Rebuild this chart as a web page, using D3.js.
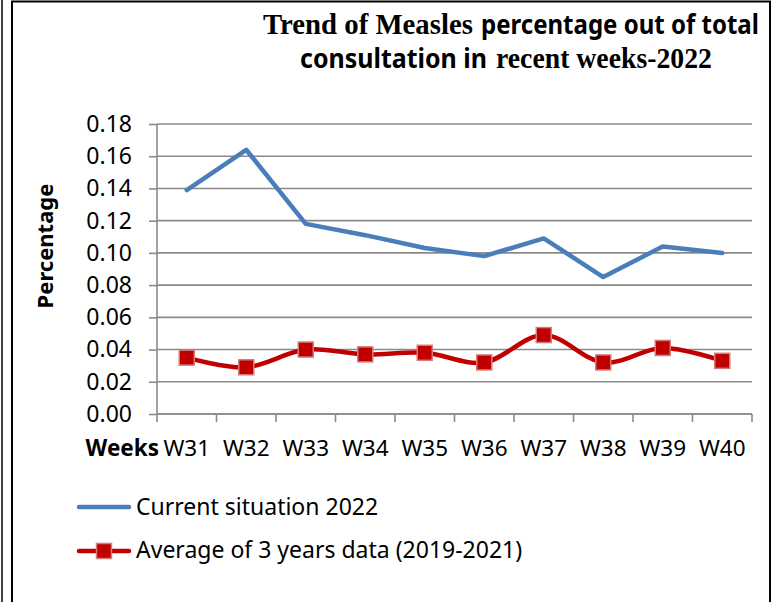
<!DOCTYPE html>
<html>
<head>
<meta charset="utf-8">
<script src="https://cdn.jsdelivr.net/npm/d3@7"></script>
<style>
  body { margin: 0; background: #fff; }
  svg { display: block; }
</style>
</head>
<body>
<svg id="chart" width="778" height="602"></svg>
<script>
// data
var weeks = ['W31', 'W32', 'W33', 'W34', 'W35', 'W36', 'W37', 'W38', 'W39', 'W40'];
var current2022 = [0.139, 0.164, 0.118, 0.111, 0.103, 0.098, 0.109, 0.085, 0.104, 0.100];
var avg3Years = [0.035, 0.029, 0.040, 0.037, 0.038, 0.032, 0.049, 0.032, 0.041, 0.033];
var yTicks = [0, 0.02, 0.04, 0.06, 0.08, 0.10, 0.12, 0.14, 0.16, 0.18];
var seriesNames = ['Current situation 2022', 'Average of 3 years data (2019-2021)'];

var svg = d3.select('#chart');
var sans = '"Noto Sans", "Open Sans", sans-serif';
var serif = '"Liberation Serif", "Times New Roman", serif';
var gridColor = '#8a8a8a';
var blue = '#4a7ebb';
var red = '#c00000';

// frame lines
svg.append('line').attr('x1', 2).attr('x2', 2).attr('y1', 0).attr('y2', 602)
    .attr('stroke', '#000').attr('stroke-width', 1.5);
svg.append('path')
    .attr('d', 'M12,602 L12,1.5 L770,1.5 L770,602')
    .attr('fill', 'none').attr('stroke', '#000').attr('stroke-width', 2);

var plotLeft = 157, plotRight = 752, plotTop = 124, plotBottom = 414;

var x = d3.scaleBand().domain(weeks).range([plotLeft, plotRight]).padding(0);
var y = d3.scaleLinear().domain([0, 0.18]).range([plotBottom, plotTop]);
var cx = function(d, i) { return x(weeks[i]) + x.bandwidth() / 2; };

// gridlines
svg.append('g').selectAll('line')
    .data(yTicks)
    .enter().append('line')
    .attr('x1', plotLeft).attr('x2', plotRight)
    .attr('y1', function(d) { return y(d); })
    .attr('y2', function(d) { return y(d); })
    .attr('stroke', gridColor).attr('stroke-width', 1.6);

// y axis
var yAxis = svg.append('g')
    .attr('transform', 'translate(' + plotLeft + ',0)')
    .call(d3.axisLeft(y).tickValues(yTicks).tickFormat(d3.format('.2f')).tickSize(8).tickPadding(17));
yAxis.selectAll('line').attr('stroke', gridColor).attr('stroke-width', 1.6);
yAxis.select('.domain').attr('stroke', gridColor).attr('stroke-width', 1.6).attr('d', 'M0,' + plotTop + 'V' + plotBottom);
yAxis.selectAll('text').attr('font-family', sans).attr('font-size', 23).attr('fill', '#000');

// x axis: labels centered in band, ticks at band edges
var xAxis = svg.append('g')
    .attr('transform', 'translate(0,' + plotBottom + ')')
    .call(d3.axisBottom(x).tickSize(0).tickPadding(26));
xAxis.select('.domain').attr('stroke', gridColor).attr('stroke-width', 1.6).attr('d', 'M' + plotLeft + ',0H' + plotRight);
xAxis.selectAll('text').attr('font-family', sans).attr('font-size', 22.5).attr('fill', '#000');
xAxis.selectAll('.edgeTick')
    .data(weeks.concat(['end']))
    .enter().append('line')
    .attr('class', 'edgeTick')
    .attr('x1', function(d) { return d === 'end' ? plotRight : x(d); })
    .attr('x2', function(d) { return d === 'end' ? plotRight : x(d); })
    .attr('y1', 0).attr('y2', 8)
    .attr('stroke', gridColor).attr('stroke-width', 1.6);

// axis titles
svg.append('text')
    .attr('transform', 'translate(53,246) rotate(-90)')
    .attr('text-anchor', 'middle')
    .attr('font-family', sans).attr('font-weight', 'bold').attr('font-size', 22)
    .text('Percentage');
svg.append('text')
    .attr('x', 159).attr('y', 456)
    .attr('text-anchor', 'end')
    .attr('font-family', sans).attr('font-weight', 'bold').attr('font-size', 22.5)
    .text('Weeks');

// blue line
var straight = d3.line()
    .x(function(d, i) { return cx(d, i); })
    .y(function(d) { return y(d); });
svg.append('path')
    .datum(current2022)
    .attr('d', straight)
    .attr('fill', 'none').attr('stroke', blue).attr('stroke-width', 4.5)
    .attr('stroke-linejoin', 'round').attr('stroke-linecap', 'round');

// red smoothed line + square markers
var smooth = d3.line()
    .x(function(d, i) { return cx(d, i); })
    .y(function(d) { return y(d); })
    .curve(d3.curveCatmullRom.alpha(0));
svg.append('path')
    .datum(avg3Years)
    .attr('d', smooth)
    .attr('fill', 'none').attr('stroke', red).attr('stroke-width', 4.5)
    .attr('stroke-linecap', 'round');
var mk = 15;
svg.append('g').selectAll('rect')
    .data(avg3Years)
    .enter().append('rect')
    .attr('x', function(d, i) { return cx(d, i) - mk / 2; })
    .attr('y', function(d) { return y(d) - mk / 2; })
    .attr('width', mk).attr('height', mk)
    .attr('fill', red).attr('stroke', '#d47a7a').attr('stroke-width', 1.5);

// legend
var legend = svg.append('g');
legend.append('line').attr('x1', 79).attr('x2', 129).attr('y1', 507).attr('y2', 507)
    .attr('stroke', blue).attr('stroke-width', 4.5).attr('stroke-linecap', 'round');
legend.append('text').attr('x', 136).attr('y', 515)
    .attr('font-family', sans).attr('font-size', 23).text(seriesNames[0]);
legend.append('line').attr('x1', 79).attr('x2', 129).attr('y1', 551).attr('y2', 551)
    .attr('stroke', red).attr('stroke-width', 4.5).attr('stroke-linecap', 'round');
legend.append('rect').attr('x', 104 - mk / 2).attr('y', 551 - mk / 2).attr('width', mk).attr('height', mk)
    .attr('fill', red).attr('stroke', '#d47a7a').attr('stroke-width', 1.5);
legend.append('text').attr('x', 136).attr('y', 558)
    .attr('font-family', sans).attr('font-size', 23).text(seriesNames[1]);

// title: serif and sans bold pieces, each squeezed to its span in the reference
function titlePiece(str, family, size, left, right, baseline) {
    var t = svg.append('text')
        .attr('x', 0).attr('y', baseline)
        .attr('font-family', family).attr('font-weight', 'bold').attr('font-size', size)
        .text(str);
    var w = t.node().getComputedTextLength();
    t.attr('transform', 'translate(' + left + ',0) scale(' + ((right - left) / w) + ',1)');
}
titlePiece('Trend of Measles', serif, 29.5, 263, 473, 34);
titlePiece('percentage out of total', sans, 27, 481, 759, 34);
titlePiece('consultation in', sans, 27, 300, 487, 68);
titlePiece('recent weeks-2022', serif, 29.5, 496, 712, 68);
</script>
</body>
</html>
